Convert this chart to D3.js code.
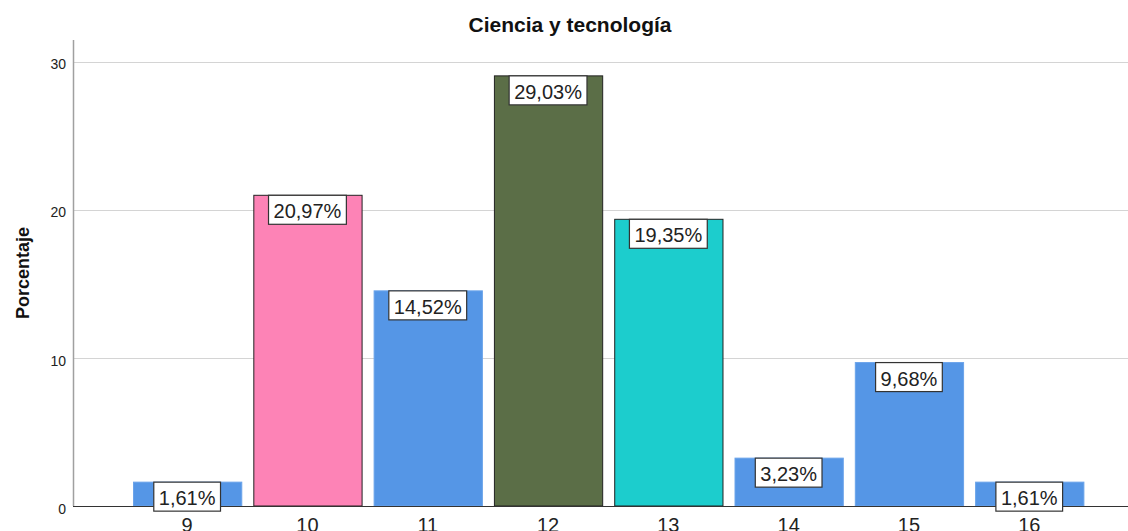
<!DOCTYPE html>
<html>
<head>
<meta charset="utf-8">
<script src="https://cdn.jsdelivr.net/npm/d3@7"></script>
<style>
  html, body { margin: 0; padding: 0; background: #fff; }
  svg { display: block; font-family: "Liberation Sans", Arial, sans-serif; }
</style>
</head>
<body>
<svg id="chart" width="1128" height="531"></svg>
<script>
const title = "Ciencia y tecnología";
const yLabel = "Porcentaje";
const categories = ["9", "10", "11", "12", "13", "14", "15", "16"];
const values = [1.61, 20.97, 14.52, 29.03, 19.35, 3.23, 9.68, 1.61];
const barLabels = ["1,61%", "20,97%", "14,52%", "29,03%", "19,35%", "3,23%", "9,68%", "1,61%"];
const barColors = ["#5596e6", "#fd83b6", "#5596e6", "#5b6e47", "#1ccdcd", "#5596e6", "#5596e6", "#5596e6"];
const barStrokes = ["#6aa3ea", "#222", "#6aa3ea", "#222", "#222", "#6aa3ea", "#6aa3ea", "#6aa3ea"];
const yTicks = [0, 10, 20, 30];

const svg = d3.select("#chart");
const axisX = 73, plotRight = 1128;

const x = d3.scaleBand().domain(categories).range([127, 1089.4])
  .paddingInner(0.1).paddingOuter(0.05);
const y = d3.scaleLinear().domain([0, 30]).range([506, 61.5]);

// gridlines
svg.append("g").selectAll("line").data(yTicks.filter(d => d > 0)).join("line")
  .attr("x1", axisX).attr("x2", plotRight)
  .attr("y1", d => Math.round(y(d)) + 0.5).attr("y2", d => Math.round(y(d)) + 0.5)
  .attr("stroke", "#d4d4d4").attr("stroke-width", 1);

// y axis
const yAxis = d3.axisLeft(y).tickValues(yTicks).tickSize(0).tickPadding(7);
const gy = svg.append("g").attr("transform", `translate(${axisX},0)`).call(yAxis);
gy.select(".domain").attr("stroke", "#a0a0a0").attr("stroke-width", 1.5)
  .attr("d", `M0.5,40V${y(0)}`);
gy.selectAll("text").attr("font-size", 14).attr("fill", "#222")
  .attr("dy", "0.52em")
  .attr("font-family", "Liberation Sans, Arial, sans-serif");

// bars
svg.append("g").selectAll("rect").data(values).join("rect")
  .attr("x", (d, i) => x(categories[i]) + 0.5)
  .attr("y", d => y(d))
  .attr("width", x.bandwidth())
  .attr("height", d => y(0) - y(d))
  .attr("fill", (d, i) => barColors[i])
  .attr("stroke", (d, i) => barStrokes[i])
  .attr("stroke-width", 1);

// x axis
const xAxis = d3.axisBottom(x).tickSize(0).tickPadding(0);
const gx = svg.append("g").attr("transform", `translate(0,${y(0)})`).call(xAxis);
gx.select(".domain").attr("stroke", "#333").attr("stroke-width", 1)
  .attr("d", `M${axisX},0.5H${plotRight}`);
gx.selectAll("text").attr("font-size", 20).attr("fill", "#222")
  .attr("dy", null).attr("y", 26)
  .attr("font-family", "Liberation Sans, Arial, sans-serif");

// value labels
const lab = svg.append("g").selectAll("g").data(values).join("g")
  .attr("transform", (d, i) => `translate(${x(categories[i]) + x.bandwidth() / 2},${y(d)})`);
lab.each(function(d, i) {
  const g = d3.select(this);
  const t = g.append("text").attr("text-anchor", "middle").attr("y", 23)
    .attr("font-size", 20).attr("fill", "#222").text(barLabels[i]);
  const w = t.node().getComputedTextLength() + 10;
  g.insert("rect", "text").attr("x", -w / 2).attr("y", 0)
    .attr("width", w).attr("height", 29)
    .attr("fill", "#fff").attr("stroke", "#333").attr("stroke-width", 1.2);
});

// title
svg.append("text").attr("x", 570).attr("y", 32).attr("text-anchor", "middle")
  .attr("font-size", 21).attr("font-weight", "bold").attr("fill", "#111").text(title);

// y label
svg.append("text").attr("transform", "translate(29,273) rotate(-90)")
  .attr("text-anchor", "middle").attr("font-size", 18).attr("font-weight", "bold")
  .attr("fill", "#111").text(yLabel);
</script>
</body>
</html>
